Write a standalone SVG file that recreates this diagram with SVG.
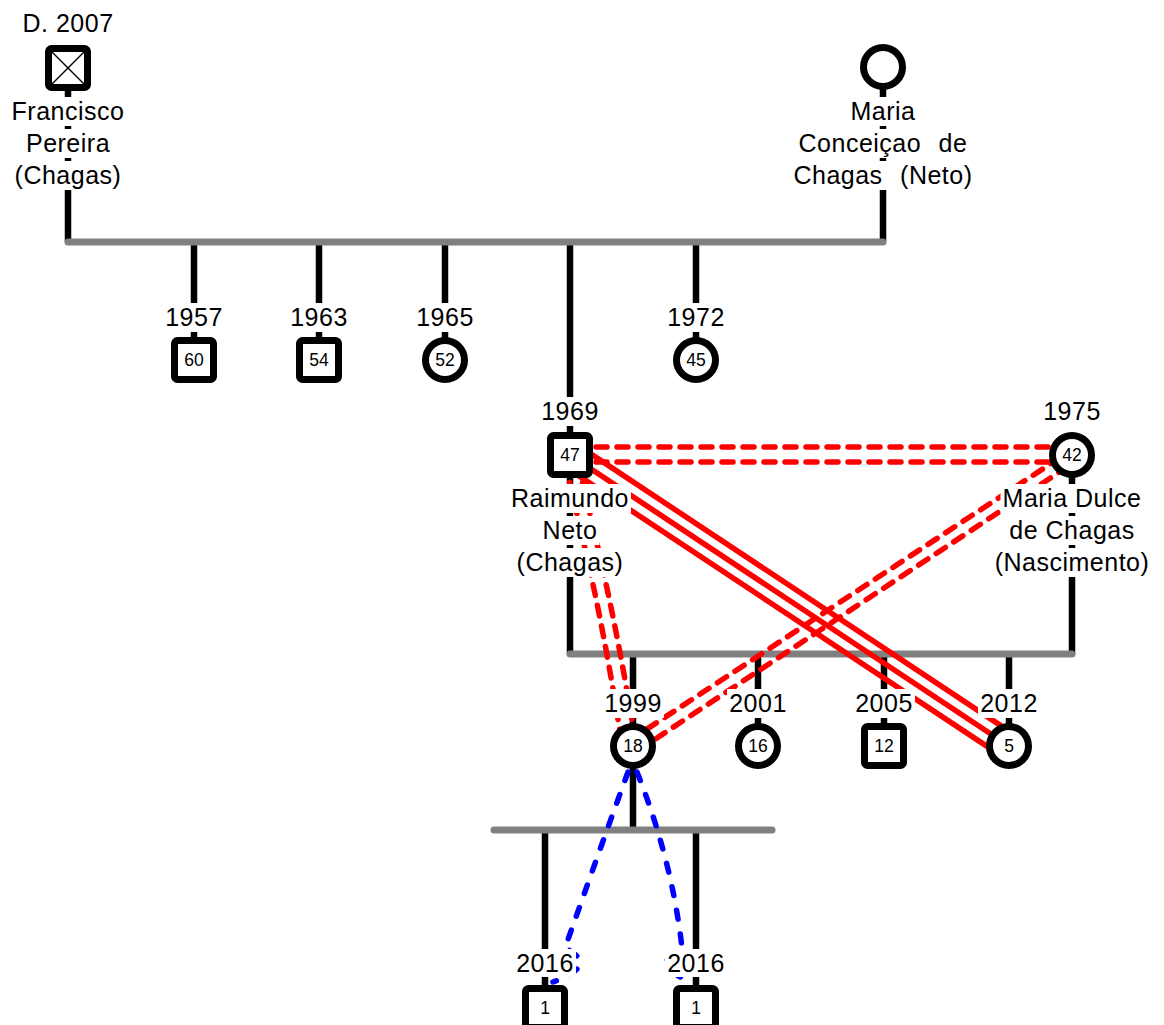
<svg xmlns="http://www.w3.org/2000/svg" width="1164" height="1025" viewBox="0 0 1164 1025">
<style>
.ln{stroke:#000;stroke-width:6.5;fill:none}
.un{stroke:#808080;stroke-width:7;stroke-linecap:round;fill:none}
.rs{stroke:#f00;stroke-width:5.5;fill:none}
.rd{stroke:#f00;stroke-width:5.5;stroke-dasharray:11 10;stroke-linecap:round;fill:none}
.bd{stroke:#00f;stroke-width:5.5;stroke-dasharray:9 15;stroke-linecap:round;fill:none}
.sh{fill:#fff;stroke:#000;stroke-width:7}
.bg{fill:#fff}
.t{font-family:"Liberation Sans",Arial,sans-serif;font-size:25px;letter-spacing:0.5px;text-anchor:middle;fill:#000}
.n{font-family:"Liberation Sans",Arial,sans-serif;font-size:17.5px;text-anchor:middle;fill:#000}
.x{stroke:#000;stroke-width:1.5}
</style>
<rect width="1164" height="1025" fill="#fff"/>
<g id="connectors">
  <line class="ln" x1="68" y1="80" x2="68" y2="242"/>
  <line class="ln" x1="883" y1="80" x2="883" y2="242"/>
  <line class="ln" x1="194" y1="242" x2="194" y2="360"/>
  <line class="ln" x1="319" y1="242" x2="319" y2="360"/>
  <line class="ln" x1="445" y1="242" x2="445" y2="360"/>
  <line class="ln" x1="696" y1="242" x2="696" y2="360"/>
  <line class="ln" x1="570" y1="242" x2="570" y2="654"/>
  <line class="ln" x1="1072" y1="455" x2="1072" y2="654"/>
  <line class="ln" x1="633" y1="654" x2="633" y2="830"/>
  <line class="ln" x1="758" y1="654" x2="758" y2="746"/>
  <line class="ln" x1="884" y1="654" x2="884" y2="746"/>
  <line class="ln" x1="1009" y1="654" x2="1009" y2="746"/>
  <line class="ln" x1="545" y1="830" x2="545" y2="1008"/>
  <line class="ln" x1="696" y1="830" x2="696" y2="1008"/>
  <line class="un" x1="68" y1="242" x2="883" y2="242"/>
  <line class="un" x1="570" y1="654" x2="1072" y2="654"/>
  <line class="un" x1="494" y1="830" x2="772" y2="830"/>
  <line class="rd" x1="575" y1="447" x2="1050" y2="447"/>
  <line class="rd" x1="575" y1="462" x2="1060" y2="462"/>
  <line class="rs" x1="576.9" y1="444.6" x2="1015.9" y2="735.6"/>
  <line class="rs" x1="570" y1="455" x2="1009" y2="746"/>
  <line class="rs" x1="563.1" y1="465.4" x2="1002.1" y2="756.4"/>
  <line class="rd" x1="1060" y1="457.6" x2="629.4" y2="740.6"/>
  <line class="rd" x1="1068" y1="466.4" x2="636.6" y2="751.4"/>
  <path class="rd" d="M565 462 C580 530 600 600 622 745"/>
  <path class="rd" d="M578 462 C593 530 613 600 636 745"/>
  <path class="bd" d="M628 772 Q596 860 565 948 Q600 965 553 982"/>
  <path class="bd" d="M637 772 Q672 860 682 948 Q647 965 692 982"/>
</g>
<g id="francisco">
  <rect class="sh" x="48.5" y="48.5" width="39" height="39" rx="3"/>
  <line class="x" x1="52" y1="52" x2="84" y2="84"/>
  <line class="x" x1="84" y1="52" x2="52" y2="84"/>
  <text class="t" x="68" y="32">D. 2007</text>
  <rect class="bg" x="9.5" y="97" width="117" height="29"/>
  <rect class="bg" x="24" y="129" width="88" height="29"/>
  <rect class="bg" x="12.5" y="161" width="111" height="29"/>
  <text class="t" x="68" y="120">Francisco</text>
  <text class="t" x="68" y="152">Pereira</text>
  <text class="t" x="68" y="184">(Chagas)</text>
</g>
<g id="maria">
  <circle class="sh" cx="883" cy="67" r="19.5"/>
  <rect class="bg" x="848.5" y="97" width="69" height="29"/>
  <rect class="bg" x="796.5" y="129" width="173" height="29"/>
  <rect class="bg" x="791.5" y="161" width="183" height="29"/>
  <text class="t" x="883" y="120">Maria</text>
  <text class="t" x="883" y="152" word-spacing="10">Conceiçao de</text>
  <text class="t" x="883" y="184" word-spacing="10">Chagas (Neto)</text>
</g>
<g id="c1957">
  <rect class="bg" x="163" y="303" width="62" height="29"/>
  <text class="t" x="194" y="326">1957</text>
  <rect class="sh" x="174.5" y="340.5" width="39" height="39" rx="3"/>
  <text class="n" x="194" y="366">60</text>
</g>
<g id="c1963">
  <rect class="bg" x="288" y="303" width="62" height="29"/>
  <text class="t" x="319" y="326">1963</text>
  <rect class="sh" x="299.5" y="340.5" width="39" height="39" rx="3"/>
  <text class="n" x="319" y="366">54</text>
</g>
<g id="c1965">
  <rect class="bg" x="414" y="303" width="62" height="29"/>
  <text class="t" x="445" y="326">1965</text>
  <circle class="sh" cx="445" cy="360" r="19.5"/>
  <text class="n" x="445" y="366">52</text>
</g>
<g id="c1972">
  <rect class="bg" x="665" y="303" width="62" height="29"/>
  <text class="t" x="696" y="326">1972</text>
  <circle class="sh" cx="696" cy="360" r="19.5"/>
  <text class="n" x="696" y="366">45</text>
</g>
<g id="raimundo">
  <rect class="bg" x="539" y="397" width="62" height="29"/>
  <text class="t" x="570" y="420">1969</text>
  <rect class="sh" x="550.5" y="435.5" width="39" height="39" rx="3"/>
  <text class="n" x="570" y="461">47</text>
  <rect class="bg" x="509" y="484" width="122" height="29"/>
  <rect class="bg" x="540.5" y="516" width="59" height="29"/>
  <rect class="bg" x="514.5" y="548" width="111" height="29"/>
  <text class="t" x="570" y="507">Raimundo</text>
  <text class="t" x="570" y="539">Neto</text>
  <text class="t" x="570" y="571">(Chagas)</text>
</g>
<g id="mariadulce">
  <rect class="bg" x="1041" y="397" width="62" height="29"/>
  <text class="t" x="1072" y="420">1975</text>
  <circle class="sh" cx="1072" cy="455" r="19.5"/>
  <text class="n" x="1072" y="461">42</text>
  <rect class="bg" x="1000.5" y="484" width="143" height="29"/>
  <rect class="bg" x="1007.5" y="516" width="129" height="29"/>
  <rect class="bg" x="992.5" y="548" width="159" height="29"/>
  <text class="t" x="1072" y="507">Maria Dulce</text>
  <text class="t" x="1072" y="539">de Chagas</text>
  <text class="t" x="1072" y="571">(Nascimento)</text>
</g>
<g id="c1999">
  <rect class="bg" x="602" y="689" width="62" height="29"/>
  <text class="t" x="633" y="712">1999</text>
  <circle class="sh" cx="633" cy="746" r="19.5"/>
  <text class="n" x="633" y="752">18</text>
</g>
<g id="c2001">
  <rect class="bg" x="727" y="689" width="62" height="29"/>
  <text class="t" x="758" y="712">2001</text>
  <circle class="sh" cx="758" cy="746" r="19.5"/>
  <text class="n" x="758" y="752">16</text>
</g>
<g id="c2005">
  <rect class="bg" x="853" y="689" width="62" height="29"/>
  <text class="t" x="884" y="712">2005</text>
  <rect class="sh" x="864.5" y="726.5" width="39" height="39" rx="3"/>
  <text class="n" x="884" y="752">12</text>
</g>
<g id="c2012">
  <rect class="bg" x="978" y="689" width="62" height="29"/>
  <text class="t" x="1009" y="712">2012</text>
  <circle class="sh" cx="1009" cy="746" r="19.5"/>
  <text class="n" x="1009" y="752">5</text>
</g>
<g id="c2016a">
  <rect class="bg" x="514" y="949" width="62" height="28"/>
  <text class="t" x="545" y="972">2016</text>
  <rect class="sh" x="525.5" y="988.5" width="39" height="39" rx="3"/>
  <text class="n" x="545" y="1014">1</text>
</g>
<g id="c2016b">
  <rect class="bg" x="665" y="949" width="62" height="28"/>
  <text class="t" x="696" y="972">2016</text>
  <rect class="sh" x="676.5" y="988.5" width="39" height="39" rx="3"/>
  <text class="n" x="696" y="1014">1</text>
</g>
</svg>
